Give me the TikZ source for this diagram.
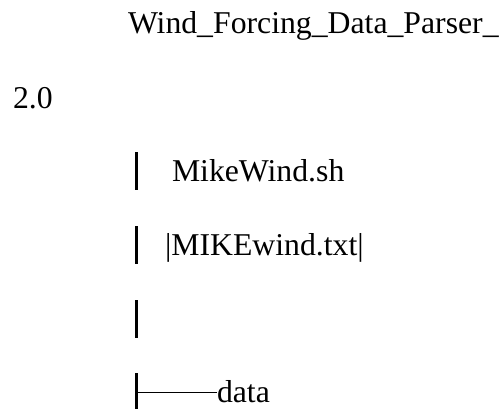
\documentclass[tikz,border=0pt]{standalone}
\usepackage{fontspec}
\setmainfont{Liberation Serif}
\begin{document}
\begin{tikzpicture}[x=0.75pt,y=-0.75pt,
  lbl/.style={anchor=base west,inner sep=0pt,outer sep=0pt,font=\fontsize{23.8}{28}\selectfont},
  vbar/.style={line width=2.2pt},
  hbar/.style={line width=1.4pt}]
\useasboundingbox[fill=white] (0,0) rectangle (501,408);
\node[lbl] (title) at (128,33) {Wind\_Forcing\_Data\_Parser\_};
\node[lbl] (ver) at (13,108) {2.0};
\node[lbl] (sh) at (172,181) {MikeWind.sh};
\node[lbl] (txt) at (165,255) {|MIKEwind.txt|};
\node[lbl] (data) at (217,402) {data};
\coordinate (b1t) at (136.5,152);
\coordinate (b1b) at (136.5,190);
\coordinate (b2t) at (136.5,226);
\coordinate (b2b) at (136.5,264);
\coordinate (b3t) at (136.5,300);
\coordinate (b3b) at (136.5,338);
\coordinate (b4t) at (136.5,373);
\coordinate (b4b) at (136.5,410);
\coordinate (tee) at (136.5,392.5);
\draw[vbar] (b1t) -- (b1b);
\draw[vbar] (b2t) -- (b2b);
\draw[vbar] (b3t) -- (b3b);
\draw[vbar] (b4t) -- (b4b);
\draw[hbar] (tee) -- (data.west |- tee);
\end{tikzpicture}
\end{document}
